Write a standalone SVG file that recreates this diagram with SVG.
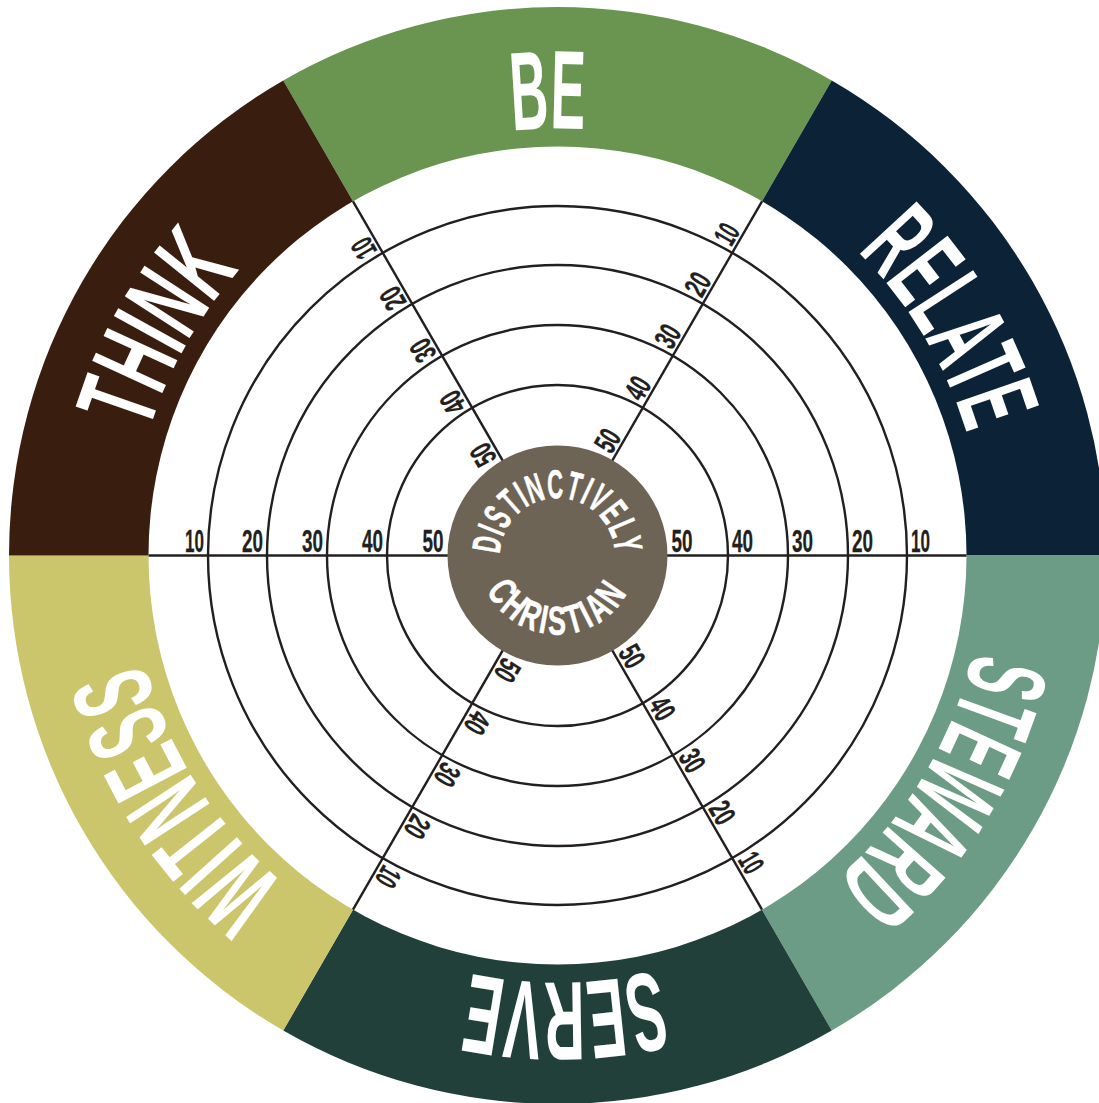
<svg xmlns="http://www.w3.org/2000/svg" width="1099" height="1103" viewBox="0 0 1099 1103">
<style>
.ring{fill:none;stroke:#231f20;stroke-width:2.4}
.spoke{stroke:#231f20;stroke-width:2.4}
.num{font-family:'Liberation Sans',Arial,sans-serif;font-weight:700;font-size:31px;fill:#231f20;stroke:#231f20;stroke-width:0.3}
.numr{text-anchor:end}
.lbl{font-family:'Liberation Sans',Arial,sans-serif;font-weight:700;font-size:112px;fill:#ffffff}
.ctr{font-family:'Liberation Sans',Arial,sans-serif;font-weight:700;font-size:40px;fill:#ffffff;stroke:#ffffff;stroke-width:0.6}
</style>
<defs>
<path id="arcTop" d="M 500 555.5 A 57.5 57.5 0 0 1 615 555.5"/>
<path id="arcBot" d="M 481.2 575.95 A 79 79 0 0 0 633.8 575.95"/>
<path id="pBe" d="M 336.3 190.2 A 427 427 0 0 1 763.2 181.3"/>
<path id="pRelate" d="M 764.5 182.0 A 427 427 0 0 1 984.4 548.05"/>
<path id="pSteward" d="M 984.4 564.4 A 427 427 0 0 1 763.2 929.7"/>
<path id="pServe" d="M 776.8 921.9 A 427 427 0 0 1 349.9 928.6"/>
<path id="pWitness" d="M 360.4 934.2 A 427 427 0 0 1 130.9 574.1"/>
<path id="pThink" d="M 130.7 560.0 A 427 427 0 0 1 339.3 188.2"/>
</defs>
<rect width="1099" height="1103" fill="#ffffff"/>
<g id="seg-be"><path d="M557.5 555.5 L283.25 80.48 A548.5 548.5 0 0 1 831.75 80.48 Z" fill="#6a9550"/></g>
<g id="seg-relate"><path d="M557.5 555.5 L831.75 80.48 A548.5 548.5 0 0 1 1106 555.5 Z" fill="#0b2237"/></g>
<g id="seg-steward"><path d="M557.5 555.5 L1106 555.5 A548.5 548.5 0 0 1 831.75 1030.52 Z" fill="#6d9c86"/></g>
<g id="seg-serve"><path d="M557.5 555.5 L831.75 1030.52 A548.5 548.5 0 0 1 283.25 1030.52 Z" fill="#21403a"/></g>
<g id="seg-witness"><path d="M557.5 555.5 L283.25 1030.52 A548.5 548.5 0 0 1 9 555.5 Z" fill="#cbc56b"/></g>
<g id="seg-think"><path d="M557.5 555.5 L9 555.5 A548.5 548.5 0 0 1 283.25 80.48 Z" fill="#391e10"/></g>
<circle cx="557.5" cy="555.5" r="409" fill="#ffffff"/>
<g id="rings">
<circle class="ring" cx="557.5" cy="555.5" r="349.5"/>
<circle class="ring" cx="557.5" cy="555.5" r="290.5"/>
<circle class="ring" cx="557.5" cy="555.5" r="230.5"/>
<circle class="ring" cx="557.5" cy="555.5" r="170.5"/>
</g>
<g id="connectors">
<line class="spoke" x1="148.5" y1="555.5" x2="966.5" y2="555.5"/>
<line class="spoke" x1="762" y1="201.3" x2="353" y2="909.7"/>
<line class="spoke" x1="353" y1="201.3" x2="762" y2="909.7"/>
</g>
<g id="scale-labels" class="num">
<g transform="translate(557.5 555.5)">
<text class="numr" x="-114" y="-3.5" textLength="21" lengthAdjust="spacingAndGlyphs">50</text>
<text class="numr" x="-174.5" y="-3.5" textLength="21" lengthAdjust="spacingAndGlyphs">40</text>
<text class="numr" x="-234.5" y="-3.5" textLength="21" lengthAdjust="spacingAndGlyphs">30</text>
<text class="numr" x="-294.5" y="-3.5" textLength="21" lengthAdjust="spacingAndGlyphs">20</text>
<text class="numr" x="-353.5" y="-3.5" textLength="19" lengthAdjust="spacingAndGlyphs">10</text>
</g>
<g transform="translate(557.5 555.5)">
<text x="114" y="-3.5" textLength="21" lengthAdjust="spacingAndGlyphs">50</text>
<text x="174.5" y="-3.5" textLength="21" lengthAdjust="spacingAndGlyphs">40</text>
<text x="234.5" y="-3.5" textLength="21" lengthAdjust="spacingAndGlyphs">30</text>
<text x="294.5" y="-3.5" textLength="21" lengthAdjust="spacingAndGlyphs">20</text>
<text x="353.5" y="-3.5" textLength="19" lengthAdjust="spacingAndGlyphs">10</text>
</g>
<g transform="translate(557.5 555.5) rotate(-60)">
<text x="114" y="-3.5" textLength="21" lengthAdjust="spacingAndGlyphs">50</text>
<text x="174.5" y="-3.5" textLength="21" lengthAdjust="spacingAndGlyphs">40</text>
<text x="234.5" y="-3.5" textLength="21" lengthAdjust="spacingAndGlyphs">30</text>
<text x="294.5" y="-3.5" textLength="21" lengthAdjust="spacingAndGlyphs">20</text>
<text x="353.5" y="-3.5" textLength="19" lengthAdjust="spacingAndGlyphs">10</text>
</g>
<g transform="translate(557.5 555.5) rotate(-120)">
<text x="114" y="-3.5" textLength="21" lengthAdjust="spacingAndGlyphs">50</text>
<text x="174.5" y="-3.5" textLength="21" lengthAdjust="spacingAndGlyphs">40</text>
<text x="234.5" y="-3.5" textLength="21" lengthAdjust="spacingAndGlyphs">30</text>
<text x="294.5" y="-3.5" textLength="21" lengthAdjust="spacingAndGlyphs">20</text>
<text x="353.5" y="-3.5" textLength="19" lengthAdjust="spacingAndGlyphs">10</text>
</g>
<g transform="translate(557.5 555.5) rotate(60)">
<text x="114" y="-3.5" textLength="21" lengthAdjust="spacingAndGlyphs">50</text>
<text x="174.5" y="-3.5" textLength="21" lengthAdjust="spacingAndGlyphs">40</text>
<text x="234.5" y="-3.5" textLength="21" lengthAdjust="spacingAndGlyphs">30</text>
<text x="294.5" y="-3.5" textLength="21" lengthAdjust="spacingAndGlyphs">20</text>
<text x="353.5" y="-3.5" textLength="19" lengthAdjust="spacingAndGlyphs">10</text>
</g>
<g transform="translate(557.5 555.5) rotate(120)">
<text x="114" y="-3.5" textLength="21" lengthAdjust="spacingAndGlyphs">50</text>
<text x="174.5" y="-3.5" textLength="21" lengthAdjust="spacingAndGlyphs">40</text>
<text x="234.5" y="-3.5" textLength="21" lengthAdjust="spacingAndGlyphs">30</text>
<text x="294.5" y="-3.5" textLength="21" lengthAdjust="spacingAndGlyphs">20</text>
<text x="353.5" y="-3.5" textLength="19" lengthAdjust="spacingAndGlyphs">10</text>
</g>
</g>
<g id="label-be"><text class="lbl"><textPath href="#pBe" startOffset="50%" text-anchor="middle" textLength="72" lengthAdjust="spacingAndGlyphs">BE</textPath></text></g>
<g id="label-relate"><text class="lbl"><textPath href="#pRelate" startOffset="50%" text-anchor="middle" textLength="215" lengthAdjust="spacingAndGlyphs">RELATE</textPath></text></g>
<g id="label-steward"><text class="lbl"><textPath href="#pSteward" startOffset="50%" text-anchor="middle" textLength="272" lengthAdjust="spacingAndGlyphs">STEWARD</textPath></text></g>
<g id="label-serve"><text class="lbl"><textPath href="#pServe" startOffset="50%" text-anchor="middle" textLength="188" lengthAdjust="spacingAndGlyphs">SERVE</textPath></text></g>
<g id="label-witness"><text class="lbl"><textPath href="#pWitness" startOffset="50%" text-anchor="middle" textLength="266" lengthAdjust="spacingAndGlyphs">WITNESS</textPath></text></g>
<g id="label-think"><text class="lbl"><textPath href="#pThink" startOffset="50%" text-anchor="middle" textLength="188" lengthAdjust="spacingAndGlyphs">THINK</textPath></text></g>
<g id="center">
<circle cx="557.5" cy="555.5" r="110" fill="#6e6455"/>
<text class="ctr" letter-spacing="2"><textPath href="#arcTop" startOffset="50%" text-anchor="middle" textLength="178" lengthAdjust="spacingAndGlyphs">DISTINCTIVELY</textPath></text>
<text class="ctr" letter-spacing="5"><textPath href="#arcBot" startOffset="50%" text-anchor="middle" textLength="176" lengthAdjust="spacingAndGlyphs">CHRISTIAN</textPath></text>
</g>
</svg>
